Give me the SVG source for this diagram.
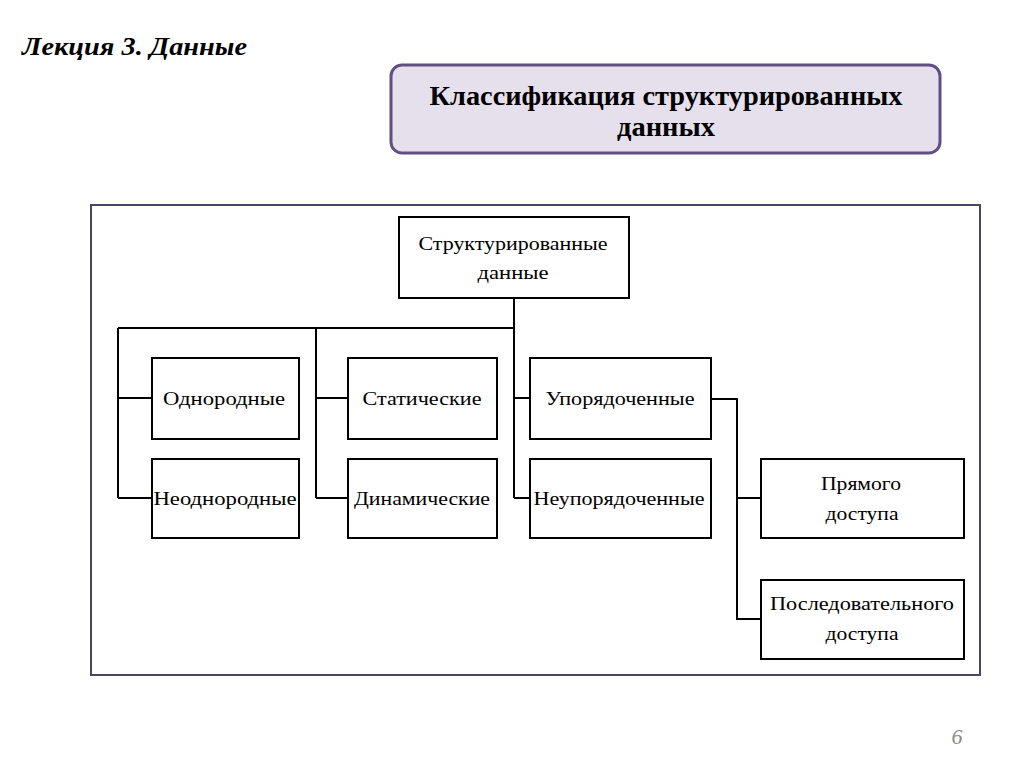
<svg xmlns="http://www.w3.org/2000/svg" width="1024" height="768" viewBox="0 0 1024 768">
<style>
.node rect{fill:#fff;stroke:#000;stroke-width:2}
.node text{font-family:"Liberation Serif","Times New Roman",serif;font-size:19px;fill:#000;text-anchor:middle}
.conn line, .conn path{stroke:#000;stroke-width:2;fill:none}
</style>
<rect width="1024" height="768" fill="#fff"/>
<text x="22" y="55" font-family="Liberation Serif, serif" font-size="26" font-weight="bold" font-style="italic" fill="#000" textLength="225" lengthAdjust="spacingAndGlyphs">Лекция 3. Данные</text>
<g id="title">
<rect x="391" y="65" width="549" height="88" rx="11" fill="#e6e0ec" stroke="#5f4f82" stroke-width="3"/>
<text x="666" y="105" font-family="Liberation Serif, serif" font-size="27" font-weight="bold" text-anchor="middle" fill="#000" textLength="473" lengthAdjust="spacingAndGlyphs">Классификация структурированных</text>
<text x="666" y="136" font-family="Liberation Serif, serif" font-size="27" font-weight="bold" text-anchor="middle" fill="#000" textLength="98" lengthAdjust="spacingAndGlyphs">данных</text>
</g>
<rect id="frame" x="91" y="205" width="889" height="470" fill="none" stroke="#4a4560" stroke-width="2"/>
<g id="connectors" class="conn">
<path d="M514 298V498M118 328H514M118 328V498M316 328V498"/>
<path d="M118 398H152M118 498H152M316 398H348M316 498H348M514 398H530M514 498H530"/>
<path d="M711 399H737V619H761M737 498H761"/>
</g>
<g id="root" class="node"><rect x="399" y="217" width="230" height="81"/>
<text x="513" y="250" textLength="189" lengthAdjust="spacingAndGlyphs">Структурированные</text>
<text x="513" y="279" textLength="71" lengthAdjust="spacingAndGlyphs">данные</text></g>
<g id="odnorodnye" class="node"><rect x="152" y="358" width="147" height="81"/>
<text x="224" y="405" textLength="122" lengthAdjust="spacingAndGlyphs">Однородные</text></g>
<g id="neodnorodnye" class="node"><rect x="152" y="459" width="147" height="79"/>
<text x="225" y="505" textLength="143" lengthAdjust="spacingAndGlyphs">Неоднородные</text></g>
<g id="staticheskie" class="node"><rect x="348" y="358" width="149" height="81"/>
<text x="422" y="405" textLength="119" lengthAdjust="spacingAndGlyphs">Статические</text></g>
<g id="dinamicheskie" class="node"><rect x="348" y="459" width="149" height="79"/>
<text x="422" y="505" textLength="136" lengthAdjust="spacingAndGlyphs">Динамические</text></g>
<g id="uporyadochennye" class="node"><rect x="530" y="358" width="181" height="81"/>
<text x="620" y="405" textLength="149" lengthAdjust="spacingAndGlyphs">Упорядоченные</text></g>
<g id="neuporyadochennye" class="node"><rect x="530" y="459" width="181" height="79"/>
<text x="619" y="505" textLength="171" lengthAdjust="spacingAndGlyphs">Неупорядоченные</text></g>
<g id="pryamogo" class="node"><rect x="761" y="459" width="203" height="79"/>
<text x="861" y="490" textLength="80" lengthAdjust="spacingAndGlyphs">Прямого</text>
<text x="862" y="520" textLength="73" lengthAdjust="spacingAndGlyphs">доступа</text></g>
<g id="posledovatelnogo" class="node"><rect x="761" y="580" width="203" height="79"/>
<text x="862" y="610" textLength="184" lengthAdjust="spacingAndGlyphs">Последовательного</text>
<text x="862" y="640" textLength="73" lengthAdjust="spacingAndGlyphs">доступа</text></g>
<text x="957" y="744" font-family="Liberation Serif, serif" font-size="22" font-style="italic" fill="#8a8a8a" text-anchor="middle">6</text>
</svg>
